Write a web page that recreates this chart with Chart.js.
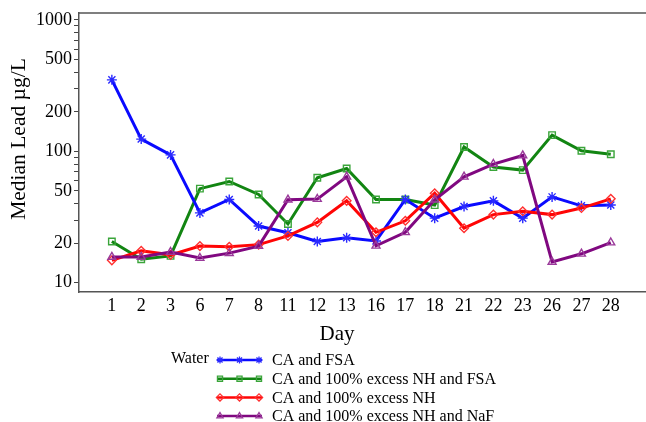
<!DOCTYPE html>
<html lang="en">
<head>
<meta charset="UTF-8">
<title>Median Lead by Day</title>
<script src="https://cdn.jsdelivr.net/npm/chart.js"></script>
<style>
  html, body { margin: 0; padding: 0; background: #fff; }
  #wrap { width: 646px; height: 422px; position: relative; }
</style>
</head>
<body>
<div id="wrap"><canvas id="leadChart"></canvas></div>
<script>
// data (median lead, ug/L)
const days = ['1', '2', '3', '6', '7', '8', '11', '12', '13', '16', '17', '18', '21', '22', '23', '26', '27', '28'];
const caFsa = [350, 124, 94, 34, 43, 27, 24, 20.6, 22, 20.8, 43, 31, 38, 42, 31, 45, 38.5, 39];
const caNhFsa = [20.6, 15.1, 16, 52, 59, 47, 28, 63, 74, 43, 43, 39, 108, 76, 72, 133, 101, 95];
const caNh = [14.8, 17.5, 16.3, 19, 18.8, 19.5, 22.7, 28.8, 42, 24.2, 29.6, 48, 26, 33, 35, 33, 37, 43.5];
const caNhNaf = [15.7, 15.7, 17.1, 15.4, 16.8, 19, 42.8, 43.3, 64, 19.1, 24.2, 42.8, 64, 80, 93, 14.4, 16.6, 20.2];
const yTickLabels = [10, 20, 50, 100, 200, 500, 1000];

const serif = '"Liberation Serif", "Times New Roman", serif';

function pts(arr) {
    return arr.map((v, i) => ({ x: i, y: v }));
}

// frame top line, axis titles and the "Water" legend block
const extras = {
    id: 'extras',
    afterDraw(chart) {
        const ctx = chart.ctx;
        const area = chart.chartArea;
        ctx.save();

        ctx.strokeStyle = '#555';
        ctx.lineWidth = 1.5;
        ctx.beginPath();
        ctx.moveTo(area.left, area.top);
        ctx.lineTo(chart.width, area.top);
        ctx.stroke();

        ctx.fillStyle = '#000';
        ctx.textAlign = 'center';
        ctx.textBaseline = 'middle';
        ctx.font = '21px ' + serif;
        ctx.fillText('Day', 337, 334);

        ctx.save();
        ctx.translate(19, 139);
        ctx.rotate(-Math.PI / 2);
        ctx.font = '21.5px ' + serif;
        ctx.fillText('Median Lead \u00b5g/L', 0, 0);
        ctx.restore();

        // legend
        ctx.font = '16px ' + serif;
        ctx.textAlign = 'left';
        ctx.fillText('Water', 171, 359);
        chart.data.datasets.forEach((ds, i) => {
            const y = 360 + i * 18.7;
            ctx.strokeStyle = ds.borderColor;
            ctx.lineWidth = 2.5;
            ctx.beginPath();
            ctx.moveTo(217, y);
            ctx.lineTo(262, y);
            ctx.stroke();
            if (Chart.helpers && Chart.helpers.drawPoint) {
                ctx.strokeStyle = ds.pointBorderColor;
                ctx.fillStyle = 'rgba(255,255,255,0)';
                ctx.lineWidth = 1.3;
                [220, 239.5, 259].forEach(px => {
                    Chart.helpers.drawPoint(ctx, {
                        pointStyle: ds.pointStyle,
                        radius: 3.6,
                        rotation: 0,
                        borderWidth: 1.3
                    }, px, y);
                });
            }
            ctx.fillStyle = '#000';
            ctx.fillText(ds.label, 272, y + 1);
        });
        ctx.restore();
    }
};

const ctx = document.getElementById('leadChart').getContext('2d');
new Chart(ctx, {
    type: 'line',
    data: {
        datasets: [
            {
                label: 'CA and FSA',
                data: pts(caFsa),
                borderColor: '#0a0aff',
                pointBorderColor: '#2a2aff',
                pointStyle: 'star',
                pointRadius: 5,
                pointBorderWidth: 1.4,
                order: 2
            },
            {
                label: 'CA and 100% excess NH and FSA',
                data: pts(caNhFsa),
                borderColor: '#128512',
                pointBorderColor: '#3aa53a',
                pointStyle: 'rect',
                pointRadius: 4.6,
                pointBorderWidth: 1.4,
                order: 3
            },
            {
                label: 'CA and 100% excess NH',
                data: pts(caNh),
                borderColor: '#ff0505',
                pointBorderColor: '#ff3030',
                pointStyle: 'rectRot',
                pointRadius: 4.3,
                pointBorderWidth: 1.4,
                order: 1
            },
            {
                label: 'CA and 100% excess NH and NaF',
                data: pts(caNhNaf),
                borderColor: '#800880',
                pointBorderColor: '#9a3a9a',
                pointStyle: 'triangle',
                pointRadius: 4.6,
                pointBorderWidth: 1.4,
                order: 0
            }
        ]
    },
    options: {
        responsive: true,
        maintainAspectRatio: false,
        animation: false,
        layout: { autoPadding: false, padding: { top: 13, left: 0, right: 0, bottom: 0 } },
        elements: {
            line: { borderWidth: 3, tension: 0 },
            point: { backgroundColor: 'rgba(255,255,255,0)' }
        },
        plugins: {
            legend: { display: false },
            tooltip: { enabled: false }
        },
        scales: {
            x: {
                type: 'linear',
                min: -1.12,
                max: 18.2,
                afterBuildTicks: scale => {
                    scale.ticks = days.map((d, i) => ({ value: i }));
                },
                afterFit: scale => { scale.height = 130; },
                ticks: {
                    autoSkip: false,
                    maxRotation: 0,
                    padding: 3,
                    color: '#000',
                    font: { family: serif, size: 18 },
                    callback: v => days[v]
                },
                grid: { display: true, drawOnChartArea: false, drawTicks: false },
                border: { display: true, color: '#555', width: 1.5 }
            },
            y: {
                type: 'logarithmic',
                min: 8.5,
                max: 1130,
                afterBuildTicks: scale => {
                    const t = [];
                    [10, 100].forEach(base => {
                        for (let k = 1; k <= 9; k++) t.push({ value: base * k });
                    });
                    t.push({ value: 1000 });
                    scale.ticks = t;
                },
                afterFit: scale => { scale.width = 79; },
                ticks: {
                    autoSkip: false,
                    padding: 2,
                    color: '#000',
                    font: { family: serif, size: 18 },
                    callback: v => yTickLabels.includes(v) ? String(v) : ''
                },
                grid: { display: true, drawOnChartArea: false, drawTicks: true, tickLength: 5, tickColor: '#444', tickWidth: 1 },
                border: { display: true, color: '#555', width: 1.5 }
            }
        }
    },
    plugins: [extras]
});
</script>
</body>
</html>
